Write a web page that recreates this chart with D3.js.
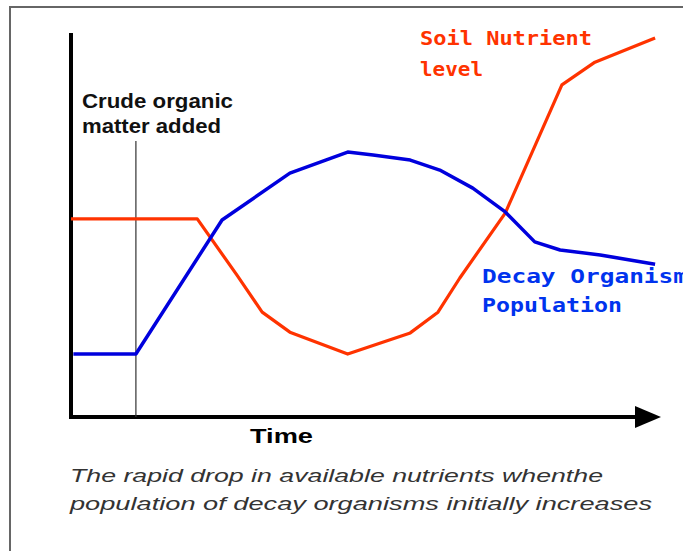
<!DOCTYPE html>
<html>
<head>
<meta charset="utf-8">
<script src="https://cdn.jsdelivr.net/npm/d3@7"></script>
<style>
  body { margin: 0; background: #fff; }
  svg { display: block; }
</style>
</head>
<body>
<div id="chart"></div>
<script>
// time in arbitrary units (0-100), levels in arbitrary units (0-100)
const nutrientTime = [0, 21.4, 28.1, 32.4, 37.1, 46.9, 57.5, 62.2, 65.9, 73.6, 83.2, 88.8, 99.0];
const nutrientLevel = [51.6, 51.6, 37.0, 27.3, 22.1, 16.4, 21.9, 27.3, 36.2, 53.1, 86.5, 92.4, 98.7];

const decayTime = [0.4, 11.0, 25.6, 37.1, 46.9, 51.2, 57.5, 62.5, 68.1, 73.6, 78.6, 82.9, 89.7, 99.0];
const decayLevel = [16.4, 16.4, 51.3, 63.5, 69.0, 68.2, 66.9, 64.3, 59.6, 53.4, 45.6, 43.5, 42.2, 39.8];

const additionTime = 11.0;
const markerLabel = ['Crude organic', 'matter added'];
const nutrientLabel = ['Soil Nutrient', 'level'];
const decayLabel = ['Decay Organism', 'Population'];
const xLabel = 'Time';
const caption = ['The rapid drop in available nutrients whenthe',
	'population of decay organisms initially increases'];

const width = 683, height = 551;
const margin = {top: 33, right: 22, bottom: 134, left: 71};

const svg = d3.select('#chart').append('svg')
	.attr('width', width)
	.attr('height', height);

// outer frame (runs off the right and bottom edge)
svg.append('rect')
	.attr('x', 10).attr('y', 7)
	.attr('width', width + 20).attr('height', height + 20)
	.attr('fill', 'none')
	.attr('stroke', '#666')
	.attr('stroke-width', 2);

const x = d3.scaleLinear()
	.domain([0, 100])
	.range([margin.left, width - margin.right]);

const y = d3.scaleLinear()
	.domain([0, 100])
	.range([height - margin.bottom, margin.top]);

const xAxis = d3.axisBottom(x).ticks(0).tickSizeOuter(0);
const yAxis = d3.axisLeft(y).ticks(0).tickSizeOuter(0);

const arrowLen = 26;

const gx = svg.append('g')
	.attr('transform', `translate(0,${y(0)})`)
	.call(xAxis);
gx.select('.domain')
	.attr('d', `M${x(0) - 2},0H${x(100) - arrowLen}`)
	.attr('stroke', '#000')
	.attr('stroke-width', 4);
gx.append('path')
	.attr('d', `M${x(100) - arrowLen},-11L${x(100)},0L${x(100) - arrowLen},11Z`)
	.attr('fill', '#000');

const gy = svg.append('g')
	.attr('transform', `translate(${x(0)},0)`)
	.call(yAxis);
gy.select('.domain')
	.attr('d', `M0,${y(100)}V${y(0) + 2}`)
	.attr('stroke', '#000')
	.attr('stroke-width', 4);

// marker line for organic matter addition
svg.append('line')
	.attr('x1', x(additionTime)).attr('x2', x(additionTime))
	.attr('y1', 141).attr('y2', y(0))
	.attr('stroke', '#333')
	.attr('stroke-width', 1.2);

const line = d3.line()
	.x(d => x(d[0]))
	.y(d => y(d[1]));

svg.append('path')
	.datum(nutrientTime.map((t, i) => [t, nutrientLevel[i]]))
	.attr('d', line)
	.attr('fill', 'none')
	.attr('stroke', '#ff3300')
	.attr('stroke-width', 3.2)
	.attr('stroke-linejoin', 'round');

svg.append('path')
	.datum(decayTime.map((t, i) => [t, decayLevel[i]]))
	.attr('d', line)
	.attr('fill', 'none')
	.attr('stroke', '#0000dd')
	.attr('stroke-width', 3.5)
	.attr('stroke-linejoin', 'round');

const addLines = (lines, opts) => {
	lines.forEach((s, i) => {
		svg.append('text')
			.attr('x', opts.x)
			.attr('y', opts.y + i * opts.step)
			.attr('font-family', opts.font)
			.attr('font-size', opts.size)
			.attr('font-weight', opts.weight || 'normal')
			.attr('font-style', opts.style || 'normal')
			.attr('fill', opts.color)
			.attr('textLength', opts.lengths[i])
			.attr('lengthAdjust', 'spacingAndGlyphs')
			.text(s);
	});
};

addLines(markerLabel, {x: 82, y: 108, step: 25, font: 'Liberation Sans, Arial, sans-serif',
	size: 20, weight: 'bold', color: '#111', lengths: [151, 139]});

addLines(nutrientLabel, {x: 420, y: 45, step: 31, font: 'DejaVu Sans Mono, monospace',
	size: 20, weight: 'bold', color: '#ff3300', lengths: [172, 63]});

// first line runs past the right edge, as in the original
addLines(decayLabel, {x: 482, y: 283, step: 29, font: 'DejaVu Sans Mono, monospace',
	size: 20, weight: 'bold', color: '#0033ee', lengths: [206, 140]});

addLines([xLabel], {x: 250, y: 443, step: 0, font: 'Liberation Sans, Arial, sans-serif',
	size: 21, weight: 'bold', color: '#000', lengths: [63]});

addLines(caption, {x: 70, y: 482, step: 28, font: 'Liberation Sans, Arial, sans-serif',
	size: 19, style: 'italic', color: '#333', lengths: [533, 582]});
</script>
</body>
</html>
